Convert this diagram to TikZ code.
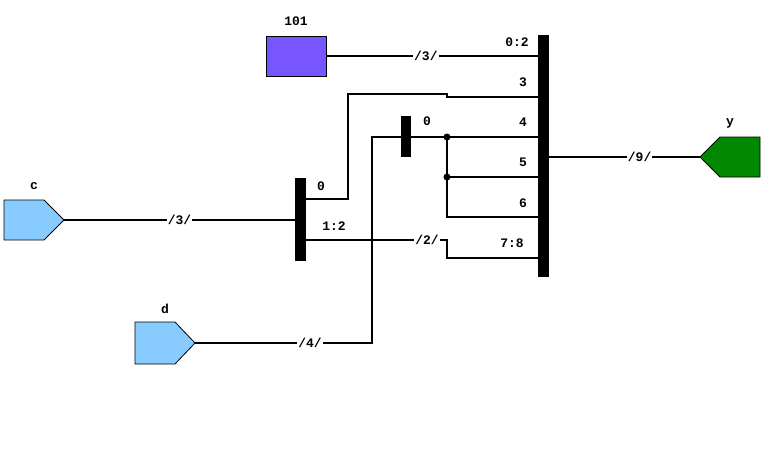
\documentclass[tikz,border=0pt]{standalone}
\usepackage{fontspec}
\setmonofont{Liberation Mono}
\begin{document}
\begin{tikzpicture}[x=1pt,y=-1pt,
  wire/.style={line width=2.2pt},
  lbl/.style={font=\ttfamily\bfseries\fontsize{13}{13}\selectfont, inner sep=1pt},
  wlbl/.style={lbl, fill=white, inner sep=1pt},
  bar/.style={fill=black},
  dotn/.style={circle, fill=black, inner sep=0pt, minimum size=7pt}]
\useasboundingbox (0,0) rectangle (774,453);
% constant
\node[draw, fill={rgb,255:red,119;green,85;blue,255}, minimum width=60pt, minimum height=40pt, line width=0.8pt] (k) at (296,56) {};
\node[lbl] at (296,21) {101};
% bars
\fill[bar] (538,35) rectangle (549,277);
\coordinate (B) at (543,157);
\fill[bar] (295,178) rectangle (306,261);
\fill[bar] (401,116) rectangle (411,157);
% inputs/outputs
\draw[fill={rgb,255:red,136;green,204;blue,255}, line width=0.8pt] (4,200) -- (44,200) -- (64,220) -- (44,240) -- (4,240) -- cycle;
\coordinate (c) at (64,220);
\node[lbl] at (34,186) {c};
\draw[fill={rgb,255:red,136;green,204;blue,255}, line width=0.8pt] (135,322) -- (175,322) -- (195,343) -- (175,364) -- (135,364) -- cycle;
\coordinate (d) at (195,343);
\node[lbl] at (165,309) {d};
\draw[fill={rgb,255:red,0;green,136;blue,0}, line width=0.8pt] (760,137) -- (720,137) -- (700,157) -- (720,177) -- (760,177) -- cycle;
\coordinate (y) at (700,157);
\node[lbl] at (730,123) {y};
% wires
\draw[wire] (k.east) -- (538,56) node[wlbl, pos=0.47] {/3/};
\node[lbl] at (517,42) {0:2};
\draw[wire] (549,157) -- (y) node[wlbl, pos=0.6] {/9/};
\draw[wire] (c) -- (295,220) node[wlbl, pos=0.5] {/3/};
\draw[wire] (306,199) -- (348,199) -- (348,94) -- (447,94) -- (447,97) -- (538,97);
\node[lbl] at (321,186) {0};
\node[lbl] at (523,82) {3};
\draw[wire] (306,240) -- (447,240) -- (447,258) -- (538,258);
\node[wlbl] at (427,240) {/2/};
\node[lbl] at (334,226) {1:2};
\node[lbl] at (512,243) {7:8};
\draw[wire] (d) -- (372,343) -- (372,137) -- (401,137);
\node[wlbl] at (310,343) {/4/};
\node[lbl] at (427,121) {0};
\draw[wire] (411,137) -- (538,137);
\node[lbl] at (523,122) {4};
\draw[wire] (447,137) -- (447,217) -- (538,217);
\draw[wire] (447,177) -- (538,177);
\node[dotn] at (447,137) {};
\node[dotn] at (447,177) {};
\node[lbl] at (523,162) {5};
\node[lbl] at (523,203) {6};
\end{tikzpicture}
\end{document}
